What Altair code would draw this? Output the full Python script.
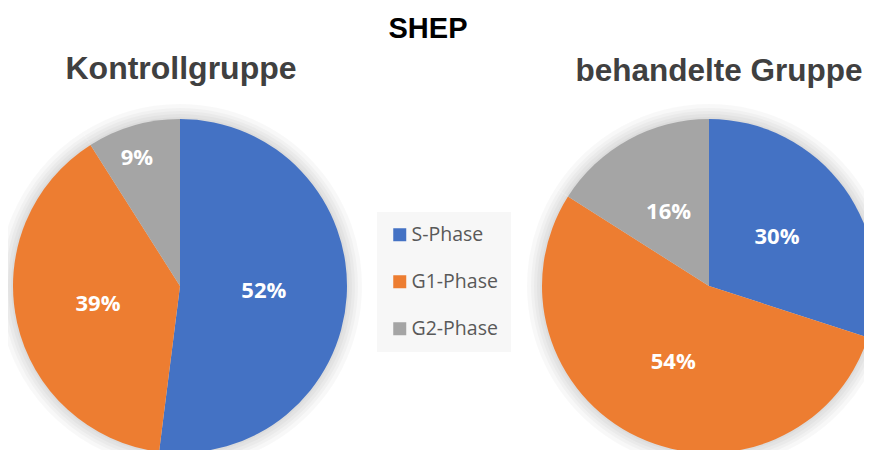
import altair as alt
import pandas as pd

main_title = "SHEP"
groups = ["Kontrollgruppe", "behandelte Gruppe"]
phases = ["S-Phase", "G1-Phase", "G2-Phase"]
kontroll = [52, 39, 9]
behandelt = [30, 54, 16]
colors = ["#4472C4", "#ED7D31", "#A5A5A5"]

rows = []
for g, vals in zip(groups, [kontroll, behandelt]):
    for i, (p, v) in enumerate(zip(phases, vals)):
        rows.append({"group": g, "phase": p, "value": v, "order": i})
df = pd.DataFrame(rows)

R = 167
centers = {"Kontrollgruppe": (172, 278), "behandelte Gruppe": (701, 278)}
title_pos = {"Kontrollgruppe": (173, 71), "behandelte Gruppe": (711, 73)}
title_size = {"Kontrollgruppe": 32, "behandelte Gruppe": 31.5}

layers = []
for g in groups:
    cx, cy = centers[g]
    base = alt.Chart(df).transform_filter(alt.datum.group == g).encode(
        theta=alt.Theta("value:Q", stack=True),
        order=alt.Order("order:Q"),
        x=alt.value(cx),
        y=alt.value(cy),
    )
    for d in [15, 11, 8, 5, 2]:
        layers.append(base.mark_arc(radius=R + d, color="#000000", opacity=0.028, strokeWidth=0))
    layers.append(
        base.mark_arc(radius=R, strokeWidth=0).encode(
            color=alt.Color(
                "phase:N",
                scale=alt.Scale(domain=phases, range=colors),
                sort=phases,
                legend=alt.Legend(title=None),
            )
        )
    )
    # labels of wide slices
    layers.append(
        base.transform_calculate(
            label="datum.value >= 10 ? datum.value + '%' : ''"
        ).mark_text(
            radius=84, font="Open Sans", fontSize=22, fontWeight="bold", color="white",
            align="center", baseline="middle",
        ).encode(text="label:N")
    )
    # labels of narrow slices, placed further out
    layers.append(
        base.transform_calculate(
            label="datum.value < 10 ? datum.value + '%' : ''"
        ).mark_text(
            radius=133, font="Open Sans", fontSize=22, fontWeight="bold", color="white",
            align="center", baseline="middle", dx=-6,
        ).encode(text="label:N")
    )
    tx, ty = title_pos[g]
    layers.append(
        alt.Chart(pd.DataFrame({"t": [g]})).mark_text(
            font="Liberation Sans", fontSize=title_size[g], fontWeight="bold", color="#404040",
            align="center", baseline="alphabetic",
        ).encode(text="t:N", x=alt.value(tx), y=alt.value(ty))
    )

layers.append(
    alt.Chart(pd.DataFrame({"t": [main_title]})).mark_text(
        font="Liberation Sans", fontSize=29, fontWeight="bold", color="#000000",
        align="center", baseline="alphabetic",
    ).encode(text="t:N", x=alt.value(420), y=alt.value(30))
)

chart = alt.layer(*layers).properties(
    width=856, height=450,
    autosize=alt.AutoSizeParams(type="none"),
    padding=0,
).configure_view(stroke=None).configure_legend(
    orient="none", legendX=369, legendY=204,
    symbolType="square", symbolSize=169, symbolStrokeWidth=0,
    labelFont="Open Sans", labelFontSize=19.5, labelColor="#595959",
    labelOffset=2, rowPadding=26, padding=13,
    fillColor="#F7F7F7",
)

chart.save("out.html", embed_options={"renderer": "svg", "actions": False})
